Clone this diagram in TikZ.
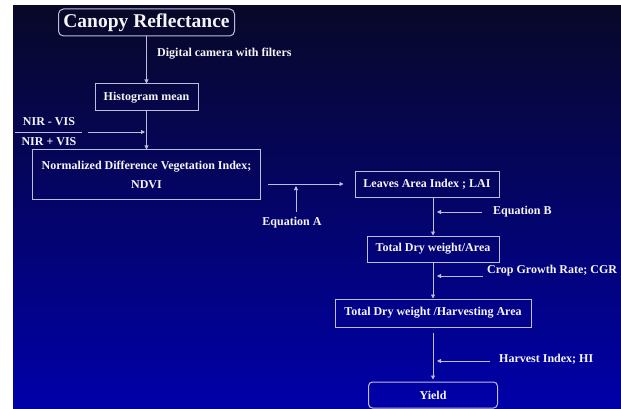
\documentclass[tikz,border=0pt]{standalone}
\usepackage{fontspec}
\setmainfont{Liberation Serif}
\usetikzlibrary{positioning, arrows.meta}

\definecolor{topnavy}{RGB}{8,8,40}
\definecolor{bottomblue}{RGB}{0,0,170}
\definecolor{edgegray}{RGB}{190,190,218}
\definecolor{textwhite}{RGB}{245,245,250}

\begin{document}
\begin{tikzpicture}[x=1pt, y=-1pt,
    stepbox/.style={draw=edgegray, line width=1pt, text=textwhite,
        font=\fontsize{12}{14}\selectfont\bfseries, inner sep=0pt, align=center},
    sidelabel/.style={text=textwhite, font=\fontsize{12}{14}\selectfont\bfseries, inner sep=0pt},
    flow/.style={draw=edgegray, line width=0.8pt, -{Triangle[length=4pt, width=4pt]}}]

    % background
    \fill[white] (0,0) rectangle (621,409);
    \shade[top color=topnavy, bottom color=bottomblue] (13,6) rectangle (621,409);
    \useasboundingbox (0,0) rectangle (621,409);

    % main chain
    \node[stepbox, rounded corners=5pt, minimum width=176pt, minimum height=27pt,
          font=\fontsize{19.5}{22}\selectfont\bfseries] (canopy) at (146.5,22.5) {Canopy Reflectance};
    \node[stepbox, minimum width=103pt, minimum height=27pt] (histo) at (146.5,97.5) {Histogram mean};
    \node[stepbox, minimum width=228pt, minimum height=49pt] (ndvi) at (146.5,174.5)
        {Normalized Difference Vegetation Index;\\[5pt] NDVI};
    \node[stepbox, minimum width=144pt, minimum height=26pt] (lai) at (427,184) {Leaves Area Index ; LAI};
    \node[stepbox, minimum width=132pt, minimum height=26pt] (dwarea) at (433,249) {Total Dry weight/Area};
    \node[stepbox, minimum width=196pt, minimum height=28pt] (dwharvest) at (433,313) {Total Dry weight /Harvesting Area};
    \node[stepbox, rounded corners=4pt, minimum width=129pt, minimum height=26pt] (yield) at (433,395) {Yield};

    % side labels
    \node[sidelabel, anchor=west] (camera) at (157,54) {Digital camera with filters};
    \node[sidelabel] (nirtop) at (49,122) {NIR - VIS};
    \node[inner sep=0pt, text=edgegray] (fracbar) at (48.5,132) {\rule{67pt}{0.8pt}};
    \node[sidelabel] (nirbot) at (49,142) {NIR + VIS};
    \node[sidelabel] (eqa) at (292,223) {Equation A};
    \node[sidelabel, anchor=west] (eqb) at (493,212) {Equation B};
    \node[sidelabel, anchor=west] (cgr) at (487,271) {Crop Growth Rate; CGR};
    \node[sidelabel, anchor=west] (hi) at (499,359) {Harvest Index; HI};

    \coordinate (nirfoot) at (88,132);
    \coordinate (eqafoot) at (296,212);
    \coordinate (eqbfoot) at (482,212);
    \coordinate (cgrfoot) at (483,276);
    \coordinate (hifoot) at (490,361);

    % connectors
    \draw[flow] (canopy.south) -- (histo.north);
    \draw[flow] (histo.south) -- (ndvi.north);
    \draw[flow, shorten >=1.5pt] (nirfoot) -- (nirfoot -| histo.south);
    \draw[flow, shorten <=7pt, shorten >=11pt] (ndvi.east |- lai.west) -- (lai.west);
    \draw[flow, shorten >=2pt] (eqafoot) -- (eqafoot |- lai.west);
    \draw[flow] (lai.south -| dwarea.north) -- (dwarea.north);
    \draw[flow, shorten >=4pt] (eqbfoot) -- (eqbfoot -| dwarea.north);
    \draw[flow] (dwarea.south) -- (dwharvest.north);
    \draw[flow, shorten >=4pt] (cgrfoot) -- (cgrfoot -| dwarea.south);
    \draw[flow, shorten <=5pt, shorten >=2pt] (dwharvest.south) -- (yield.north);
    \draw[flow, shorten >=4pt] (hifoot) -- (hifoot -| dwharvest.south);
\end{tikzpicture}
\end{document}
